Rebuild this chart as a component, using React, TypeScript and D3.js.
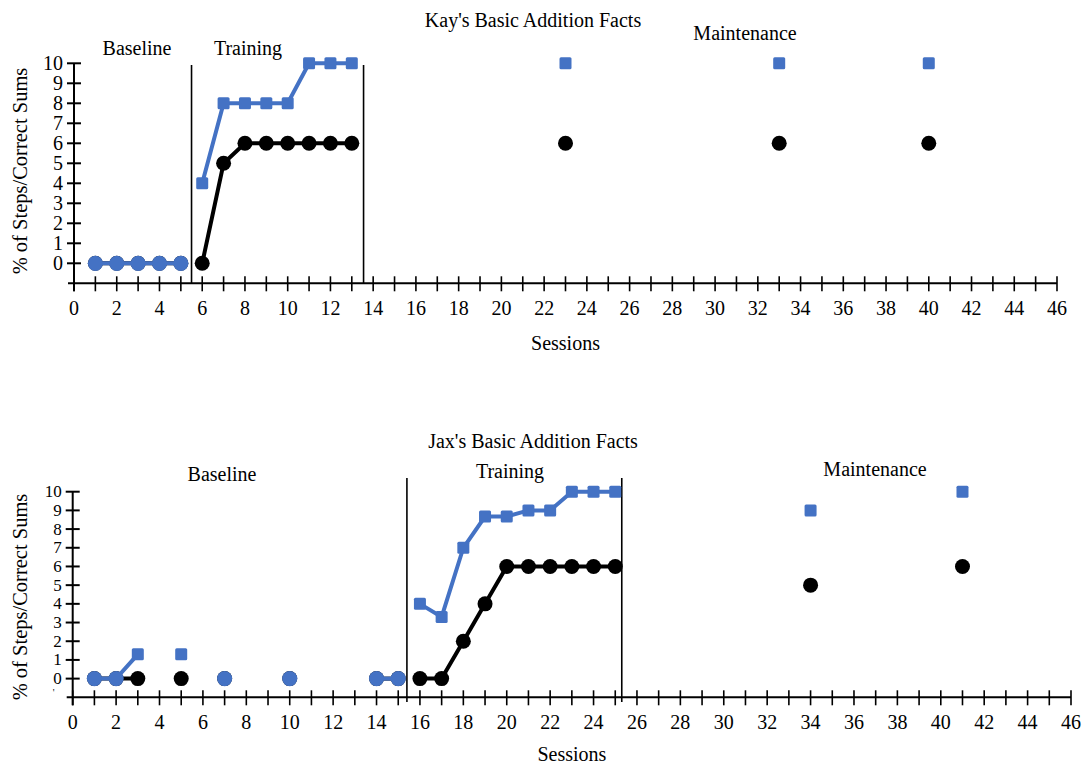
import React from "react";
import * as d3 from "d3";

const FONT = "'Liberation Serif', 'Times New Roman', serif";
const BLUE = "#4472C4";

// ---- Kay ----
const kaySessions = [1, 2, 3, 4, 5, 6, 7, 8, 9, 10, 11, 12, 13, 23, 33, 40];
const kayPhase = ["B", "B", "B", "B", "B", "T", "T", "T", "T", "T", "T", "T", "T", "M", "M", "M"];
const kayBlack = [0, 0, 0, 0, 0, 0, 5, 6, 6, 6, 6, 6, 6, 6, 6, 6];
const kayBlue = [0, 0, 0, 0, 0, 4, 8, 8, 8, 8, 10, 10, 10, 10, 10, 10];
const kayPhaseLines = [5.5, 13.55];

// ---- Jax ----
const jaxSessions = [1, 2, 3, 5, 7, 10, 14, 15, 16, 17, 18, 19, 20, 21, 22, 23, 24, 25, 34, 41];
const jaxPhase = ["B", "B", "B", "B", "B", "B", "B", "B", "T", "T", "T", "T", "T", "T", "T", "T", "T", "T", "M", "M"];
const jaxBlack = [0, 0, 0, 0, 0, 0, 0, 0, 0, 0, 2, 4, 6, 6, 6, 6, 6, 6, 5, 6];
const jaxBlue = [0, 0, 1.3, 1.3, 0, 0, 0, 0, 4, 3.3, 7, 8.67, 8.67, 9, 9, 10, 10, 10, 9, 10];
const jaxPhaseLines = [15.4, 25.3];

const yTicks = [0, 1, 2, 3, 4, 5, 6, 7, 8, 9, 10];
const xTicksMinor = d3.range(0, 47);
const xTickLabels = d3.range(0, 47, 2);

type PanelCfg = {
  title: string;
  titleXY: [number, number];
  phaseLabels: { text: string; x: number; y: number }[];
  sessions: number[];
  phase: string[];
  black: number[];
  blue: number[];
  phaseLines: number[];
  xRange: [number, number];
  yRange: [number, number]; // pixel for y=-1, y=10
  phaseLineTop: number;
  phaseLineBottom: number;
  xLabelY: number;
  sessionsY: number;
  yTitleY: number;
  yTickFont: number;
  minusMark: boolean;
};

function segments(sessions: number[], phase: string[], vals: number[]) {
  const segs: [number, number][][] = [];
  let cur: [number, number][] = [];
  sessions.forEach((s, i) => {
    if (i > 0 && (phase[i] !== phase[i - 1] || s - sessions[i - 1] !== 1)) {
      segs.push(cur);
      cur = [];
    }
    cur.push([s, vals[i]]);
  });
  segs.push(cur);
  return segs.filter((g) => g.length > 1);
}

function Panel({ c }: { c: PanelCfg }) {
  const x = d3.scaleLinear().domain([0, 46]).range(c.xRange);
  const y = d3.scaleLinear().domain([-1, 10]).range(c.yRange);
  const line = d3
    .line<[number, number]>()
    .x((d) => x(d[0]))
    .y((d) => y(d[1]));
  const axisY = y(-1);
  const x0 = x(0);
  const blackSegs = segments(c.sessions, c.phase, c.black);
  const blueSegs = segments(c.sessions, c.phase, c.blue);
  return (
    <g>
      <text x={c.titleXY[0]} y={c.titleXY[1]} textAnchor="middle" dominantBaseline="central" fontSize={20}>
        {c.title}
      </text>
      {c.phaseLabels.map((p) => (
        <text key={p.text} x={p.x} y={p.y} textAnchor="middle" dominantBaseline="central" fontSize={20}>
          {p.text}
        </text>
      ))}
      {/* y axis */}
      <line x1={x0} x2={x0} y1={y(10)} y2={axisY + 8} stroke="#000" strokeWidth={2} />
      {yTicks.map((t) => (
        <g key={t}>
          <line x1={x0 - 7} x2={x0 + 7} y1={y(t)} y2={y(t)} stroke="#000" strokeWidth={2} />
          <text x={x0 - 11} y={y(t)} textAnchor="end" dominantBaseline="central" fontSize={c.yTickFont}>
            {t}
          </text>
        </g>
      ))}
      {c.minusMark && (
        <text x={x0 - 19} y={axisY - 5} textAnchor="middle" dominantBaseline="central" fontSize={10}>
          '
        </text>
      )}
      {/* x axis */}
      <line x1={x0 - 6} x2={x(46)} y1={axisY} y2={axisY} stroke="#000" strokeWidth={2} />
      {xTicksMinor.map((t) => (
        <line key={t} x1={x(t)} x2={x(t)} y1={axisY - 7} y2={axisY + 8} stroke="#000" strokeWidth={1.6} />
      ))}
      {xTickLabels.map((t) => (
        <text key={t} x={x(t)} y={c.xLabelY} textAnchor="middle" dominantBaseline="central" fontSize={20}>
          {t}
        </text>
      ))}
      <text x={x(23)} y={c.sessionsY} textAnchor="middle" dominantBaseline="central" fontSize={20}>
        Sessions
      </text>
      <text
        transform={`translate(20,${c.yTitleY}) rotate(-90)`}
        textAnchor="middle"
        dominantBaseline="central"
        fontSize={20.5}
      >
        % of Steps/Correct Sums
      </text>
      {/* phase lines */}
      {c.phaseLines.map((p) => (
        <line key={p} x1={x(p)} x2={x(p)} y1={c.phaseLineTop} y2={c.phaseLineBottom} stroke="#000" strokeWidth={1.6} />
      ))}
      {/* black series */}
      {blackSegs.map((s, i) => (
        <path key={"bl" + i} d={line(s) || ""} fill="none" stroke="#000" strokeWidth={4} />
      ))}
      {c.sessions.map((s, i) => (
        <circle key={"bc" + i} cx={x(s)} cy={y(c.black[i])} r={7.5} fill="#000" />
      ))}
      {/* blue series */}
      {blueSegs.map((s, i) => (
        <path key={"ul" + i} d={line(s) || ""} fill="none" stroke={BLUE} strokeWidth={4} />
      ))}
      {c.sessions.map((s, i) =>
        c.blue[i] === c.black[i] ? (
          <circle key={"uc" + i} cx={x(s)} cy={y(c.blue[i])} r={7.6} fill={BLUE} />
        ) : (
          <rect key={"ur" + i} x={x(s) - 6} y={y(c.blue[i]) - 6} width={12} height={12} rx={1.5} fill={BLUE} />
        )
      )}
    </g>
  );
}

const kayCfg: PanelCfg = {
  title: "Kay's Basic Addition Facts",
  titleXY: [533, 20],
  phaseLabels: [
    { text: "Baseline", x: 137, y: 48 },
    { text: "Training", x: 248, y: 48 },
    { text: "Maintenance", x: 745, y: 33 },
  ],
  sessions: kaySessions,
  phase: kayPhase,
  black: kayBlack,
  blue: kayBlue,
  phaseLines: kayPhaseLines,
  xRange: [74, 1057],
  yRange: [283.3, 63.3],
  phaseLineTop: 65,
  phaseLineBottom: 284,
  xLabelY: 308,
  sessionsY: 343,
  yTitleY: 171,
  yTickFont: 20,
  minusMark: false,
};

const jaxCfg: PanelCfg = {
  title: "Jax's Basic Addition Facts",
  titleXY: [533, 441],
  phaseLabels: [
    { text: "Baseline", x: 222, y: 474 },
    { text: "Training", x: 510, y: 471 },
    { text: "Maintenance", x: 875, y: 469 },
  ],
  sessions: jaxSessions,
  phase: jaxPhase,
  black: jaxBlack,
  blue: jaxBlue,
  phaseLines: jaxPhaseLines,
  xRange: [72.7, 1071],
  yRange: [697.3, 491.7],
  phaseLineTop: 478,
  phaseLineBottom: 702,
  xLabelY: 722,
  sessionsY: 754,
  yTitleY: 597,
  yTickFont: 17,
  minusMark: true,
};

export default function App() {
  return (
    <svg
      width={1087}
      height={766}
      style={{ position: "absolute", left: 0, top: 0, background: "#fff" }}
      fontFamily={FONT}
      fill="#000"
    >
      <rect width={1087} height={766} fill="#fff" />
      <Panel c={kayCfg} />
      <Panel c={jaxCfg} />
    </svg>
  );
}
